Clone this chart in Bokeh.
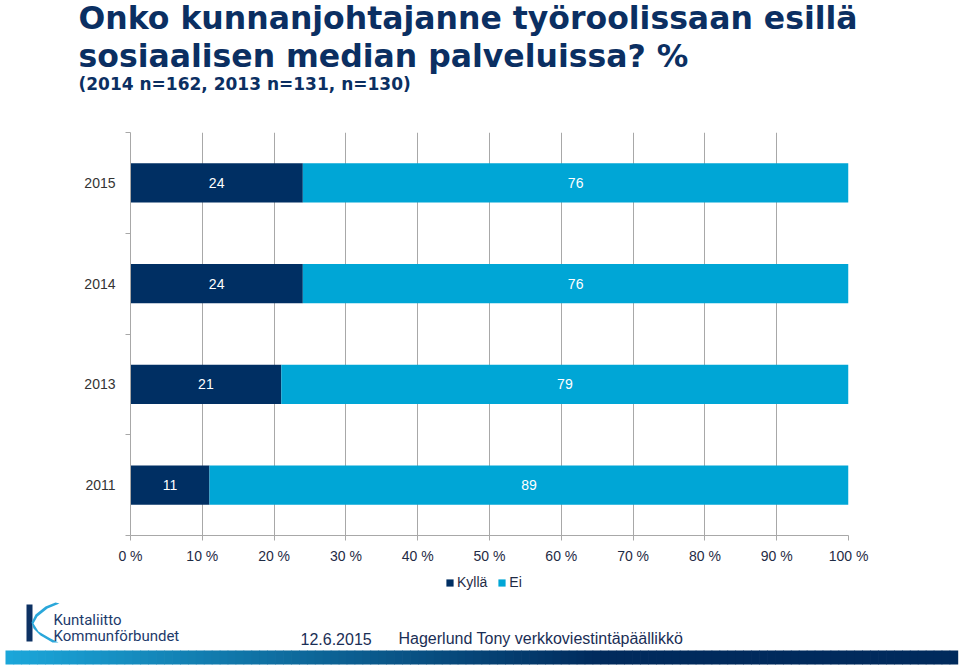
from bokeh.plotting import figure
from bokeh.layouts import column, row
from bokeh.models import Range1d, FixedTicker, Legend, LegendItem
from bokeh.core.properties import value
from bokeh.embed import file_html
from bokeh.resources import INLINE

# ---------------- data ----------------
years = ["2015", "2014", "2013", "2011"]
kylla = [24, 24, 21, 11]
ei = [76, 76, 79, 89]
x_ticks = [0, 10, 20, 30, 40, 50, 60, 70, 80, 90, 100]
x_tick_labels = ["0 %", "10 %", "20 %", "30 %", "40 %", "50 %", "60 %", "70 %", "80 %", "90 %", "100 %"]
series_names = ["Kyllä", "Ei"]
title_lines = ["Onko kunnanjohtajanne työroolissaan esillä",
               "sosiaalisen median palveluissa? %"]
subtitle = "(2014 n=162, 2013 n=131, n=130)"
footer_date = "12.6.2015"
footer_author = "Hagerlund Tony verkkoviestintäpäällikkö"
logo_lines = ["Kuntaliitto", "Kommunförbundet"]

NAVY = "#002f63"
LIGHT = "#00a6d6"
TITLE_C = "#0b2f62"
GRID = "#a8a8a8"
W = 960

# page layout (pixels)
HEAD_H = 112
FL, FR, FT, FB = 130, 848, 132, 537
CHART_BOTTOM = 566
FOOT_H = 666 - CHART_BOTTOM


def blank(h):
    f = figure(width=W, height=h, output_backend="svg", toolbar_location=None,
               x_range=Range1d(0, W), y_range=Range1d(h, 0),
               x_axis_location=None, y_axis_location=None,
               min_border=0, min_border_left=0, min_border_right=0,
               min_border_top=0, min_border_bottom=0)
    f.outline_line_color = None
    f.xgrid.visible = False
    f.ygrid.visible = False
    return f


# ---------------- header ----------------
t = blank(HEAD_H)
t.text(x=[78, 78], y=[17, 55], text=title_lines, text_font=value("DejaVu Sans"),
       text_font_style="bold", text_font_size="31.5px", text_color=TITLE_C,
       text_baseline="alphabetic", text_align="left")
t.text(x=[78], y=[83], text=[subtitle], text_font=value("DejaVu Sans"),
       text_font_style="bold", text_font_size="17px", text_color=TITLE_C,
       text_baseline="alphabetic", text_align="left")

# ---------------- chart ----------------
n = len(years)
ypos = [n - 1 - i + 0.5 for i in range(n)]
ei_right = [k + e for k, e in zip(kylla, ei)]

p = figure(width=W, height=CHART_BOTTOM - HEAD_H, output_backend="svg", toolbar_location=None,
           x_range=Range1d(0, 100), y_range=Range1d(0, n),
           min_border_left=FL, min_border_right=W - FR,
           min_border_top=FT - HEAD_H, min_border_bottom=CHART_BOTTOM - FB)
p.outline_line_color = None

p.hbar(y=ypos, left=[0] * n, right=kylla, height=0.39, fill_color=NAVY, line_color=None)
p.hbar(y=ypos, left=kylla, right=ei_right, height=0.39, fill_color=LIGHT, line_color=None)

lbl_font = value("Liberation Sans")
p.text(x=[k / 2 for k in kylla], y=ypos, text=[str(k) for k in kylla],
       text_color="white", text_font=lbl_font, text_font_size="14px",
       text_align="center", text_baseline="middle")
p.text(x=[k + e / 2 for k, e in zip(kylla, ei)], y=ypos, text=[str(e) for e in ei],
       text_color="white", text_font=lbl_font, text_font_size="14px",
       text_align="center", text_baseline="middle")

p.xaxis.ticker = FixedTicker(ticks=x_ticks)
p.xaxis.major_label_overrides = {t_: l for t_, l in zip(x_ticks, x_tick_labels)}
p.xaxis.axis_line_color = GRID
p.xaxis.major_tick_line_color = GRID
p.xaxis.major_tick_out = 5
p.xaxis.major_tick_in = 0
p.xaxis.minor_tick_line_color = None
p.xaxis.major_label_standoff = 7
p.xaxis.major_label_text_font = "Liberation Sans"
p.xaxis.major_label_text_font_size = "14px"
p.xaxis.major_label_text_color = "#1f2b45"

p.yaxis.ticker = FixedTicker(ticks=ypos, minor_ticks=list(range(n + 1)))
p.yaxis.major_label_overrides = {y: yr for y, yr in zip(ypos, years)}
p.yaxis.axis_line_color = GRID
p.yaxis.major_tick_line_color = None
p.yaxis.major_tick_out = 0
p.yaxis.major_tick_in = 0
p.yaxis.minor_tick_line_color = GRID
p.yaxis.minor_tick_out = 5
p.yaxis.minor_tick_in = 0
p.yaxis.major_label_standoff = 10
p.yaxis.major_label_text_font = "Liberation Sans"
p.yaxis.major_label_text_font_size = "14px"
p.yaxis.major_label_text_color = "#333333"

p.xgrid.grid_line_color = GRID
p.ygrid.visible = False

# ---------------- footer ----------------
f = blank(FOOT_H)


def fy(page_y):
    return page_y - CHART_BOTTOM


# legend swatch renderers (kept off the canvas; only their legend swatches show)
lr1 = f.rect(x=[-100], y=[-100], width=9, height=9, fill_color=NAVY, line_color=None)
lr2 = f.rect(x=[-100], y=[-100], width=9, height=9, fill_color=LIGHT, line_color=None)
legend = Legend(items=[LegendItem(label=series_names[0], renderers=[lr1]),
                       LegendItem(label=series_names[1], renderers=[lr2])],
                orientation="horizontal", location=(445, 666 - 592),
                glyph_width=9, glyph_height=9, label_standoff=3, spacing=10,
                padding=0, margin=0, border_line_color=None, background_fill_alpha=0,
                label_text_font="Liberation Sans", label_text_font_size="14px",
                label_text_color="#1f2b45", label_height=20)
f.add_layout(legend, "center")

# gradient bar
steps = 120
x0, x1 = 5, 957
c0 = (0x1b, 0xa6, 0xd9)
c1 = (0x00, 0x2a, 0x5c)
lefts, rights, cols = [], [], []
for i in range(steps):
    a = i / (steps - 1)
    a2 = min(1.0, a * 1.6)
    c = tuple(int(round(c0[j] + (c1[j] - c0[j]) * a2)) for j in range(3))
    lefts.append(x0 + (x1 - x0) * i / steps)
    rights.append(x0 + (x1 - x0) * (i + 1) / steps + 0.7)
    cols.append("#%02x%02x%02x" % c)
f.quad(left=lefts, right=rights, top=[fy(650)] * steps, bottom=[fy(664)] * steps,
       fill_color=cols, line_color=None)

# logo
f.quad(left=[26], right=[32], top=[fy(604)], bottom=[fy(641)], fill_color="#0d3163", line_color=None)
swoosh_x = [59, 47, 37, 33, 38, 50, 58, 52, 40, 33, 31, 35, 45, 55]
swoosh_y = [603, 608, 616, 623, 631, 638, 642, 642, 635, 628, 622, 614, 606, 602]
f.patch(x=swoosh_x, y=[fy(v) for v in swoosh_y], fill_color="#2aa7da", line_color=None)
f.text(x=[53, 53], y=[fy(619), fy(635)], text=logo_lines, text_font=value("Roboto"),
       text_font_size="15px", text_color="#1d3a6b", text_baseline="alphabetic")
f.text(x=[300], y=[fy(638)], text=[footer_date], text_font=value("Liberation Sans"),
       text_font_size="16px", text_color="#1a2e55", text_baseline="alphabetic")
f.text(x=[398], y=[fy(638)], text=[footer_author], text_font=value("Liberation Sans"),
       text_font_size="16px", text_color="#1a2e55", text_baseline="alphabetic")

layout = column(t, row(p), f, spacing=0)
open("out.html", "w").write(file_html(layout, INLINE))
